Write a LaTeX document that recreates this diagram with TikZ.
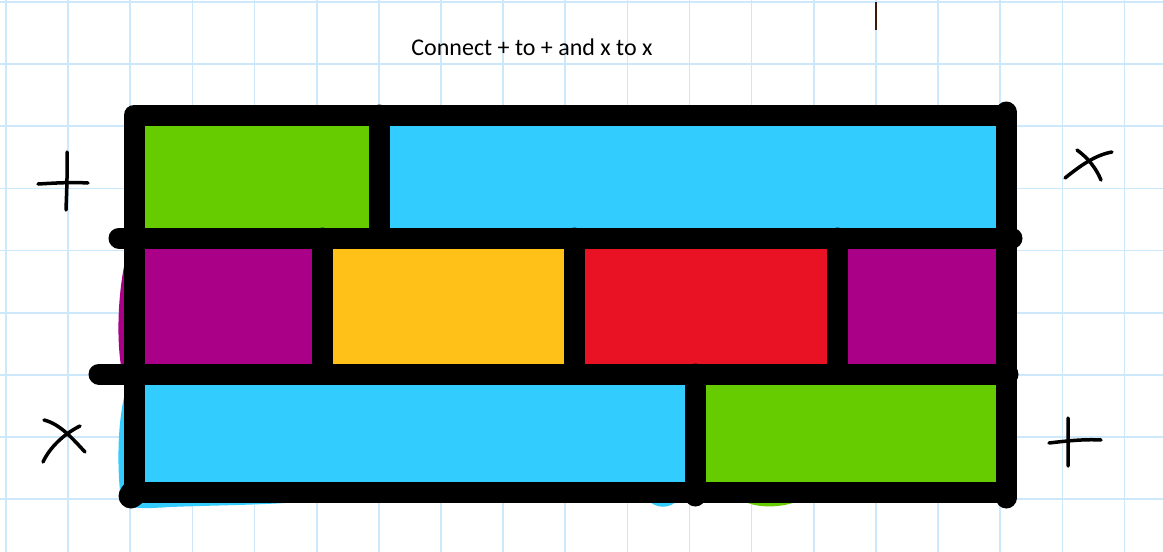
\documentclass[tikz,border=0pt]{standalone}
\usepackage{fontspec}
\setmainfont{Carlito}
\definecolor{gridblue}{RGB}{204,232,250}
\definecolor{cgreen}{RGB}{102,204,0}
\definecolor{cblue}{RGB}{51,204,255}
\definecolor{cpurple}{RGB}{170,0,136}
\definecolor{cyellow}{RGB}{255,193,24}
\definecolor{cred}{RGB}{232,18,36}
\definecolor{tickbrown}{RGB}{60,25,5}
\tikzset{
  gridline/.style={gridblue, line width=1.6pt},
  wall/.style={black, line width=21pt, line cap=round, line join=round},
  penstroke/.style={black, line width=3.5pt, line cap=round},
}
\begin{document}
\begin{tikzpicture}[x=1pt,y=-1pt]
\useasboundingbox (0,0) rectangle (1163,552);
\fill[white] (0,0) rectangle (1163,552);
% grid
\foreach \i in {0,...,18} {
  \draw[gridline] ({6+62.14*\i},0) -- ({6+62.14*\i},552);
}
\foreach \j in {0,...,8} {
  \draw[gridline] (0,{2+62.14*\j}) -- (1163,{2+62.14*\j});
}
\draw[tickbrown, line width=1.5pt] (876,2) -- (876,30);
% colour fills
\fill[cgreen]  (134,115) rectangle (379.5,238);
\fill[cblue]   (379.5,115) rectangle (1006,238);
\fill[cpurple] (134,238) rectangle (322.5,374);
\fill[cyellow] (322.5,238) rectangle (574.5,374);
\fill[cred]    (574.5,238) rectangle (837.5,374);
\fill[cpurple] (837.5,238) rectangle (1006,374);
\fill[cblue]   (134,374) rectangle (695,492);
\fill[cgreen]  (695,374) rectangle (1006,492);
% bleeds
\fill[cpurple] (128,250) .. controls (119,280) and (115,335) .. (122,372) -- (134,372) -- (134,250) -- cycle;
\fill[cpurple] (1006,270) .. controls (1019,290) and (1019,320) .. (1006,340) -- cycle;
\fill[cblue] (126,390) .. controls (117,420) and (117,470) .. (121,500)
  .. controls (128,509) and (140,509) .. (170,507)
  .. controls (220,505) and (280,505) .. (320,500) -- (320,490) -- (134,490) -- cycle;
\fill[cblue] (648,500) .. controls (656,509) and (670,509) .. (678,500) -- cycle;
\fill[cgreen] (742,500) .. controls (755,509) and (785,508) .. (800,500) -- cycle;
% black walls
\draw[wall] (134,496) -- (134,115) -- (1006,115);
\fill[black] (131,496) circle (12.5);
\draw[wall] (1006,112) -- (1006,498);
\draw[wall] (131,492) -- (1006,492);
\draw[wall] (119,238) -- (1012,238);
\draw[wall] (99,374) -- (1008,374);
\draw[wall] (379.5,115) -- (379.5,238);
\draw[wall] (322.5,238) -- (322.5,374);
\draw[wall] (574.5,238) -- (574.5,374);
\draw[wall] (837.5,238) -- (837.5,374);
\draw[wall] (695,374) -- (695,496);
% pen marks
\draw[penstroke] (67,152) .. controls (67.5,175) and (66.5,195) .. (66,210);
\draw[penstroke] (38,184) .. controls (55,183) and (72,182) .. (88,183);
\draw[penstroke] (1065,178) .. controls (1080,166) and (1095,155) .. (1112,152);
\draw[penstroke] (1077,150) .. controls (1088,158) and (1096,168) .. (1101,180);
\draw[penstroke] (44,420) .. controls (60,424) and (72,438) .. (85,452);
\draw[penstroke] (80,426) .. controls (64,434) and (50,447) .. (43,462);
\draw[penstroke] (1068,418) .. controls (1068.5,435) and (1068,450) .. (1068,466);
\draw[penstroke] (1049,443) .. controls (1066,441) and (1084,439) .. (1101,440);
% title
\node[anchor=base, inner sep=0pt, font=\fontsize{24}{28}\selectfont] (title) at (532,55) {Connect + to + and x to x};
\end{tikzpicture}
\end{document}
